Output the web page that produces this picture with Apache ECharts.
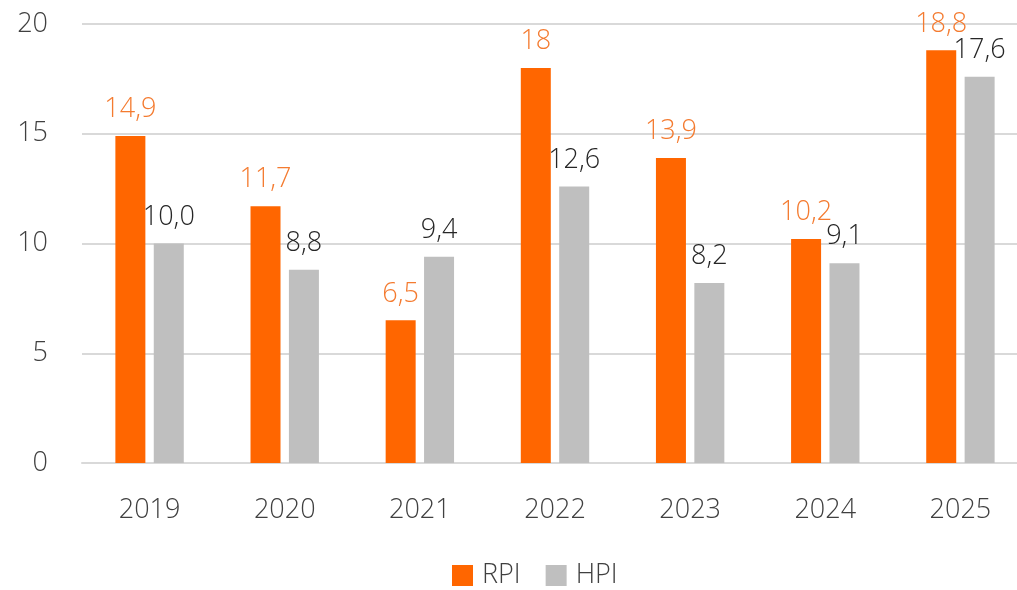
<!DOCTYPE html>
<html>
<head>
<meta charset="utf-8">
<script src="https://cdn.jsdelivr.net/npm/echarts@6/dist/echarts.min.js"></script>
<style>
  html, body { margin: 0; padding: 0; background: #fff; }
  #chart { width: 1017px; height: 590px; }
</style>
</head>
<body>
<div id="chart"></div>
<script>
// данные
const years = ['2019', '2020', '2021', '2022', '2023', '2024', '2025'];
const rpi = [14.9, 11.7, 6.5, 18, 13.9, 10.2, 18.8];
const hpi = [10.0, 8.8, 9.4, 12.6, 8.2, 9.1, 17.6];
const yTicks = [0, 5, 10, 15, 20];

const font = '"Open Sans", sans-serif';
const comma = (v) => String(v).replace('.', ',');

const chart = echarts.init(document.getElementById('chart'));
chart.setOption({
  animation: false,
  textStyle: { fontFamily: font },
  // сетка чуть шире окна, как в исходнике
  grid: { left: 82, width: 946, top: 24, bottom: 127, outerBoundsMode: 'none', containLabel: false },
  legend: {
    left: 447,
    bottom: -4,
    itemWidth: 21,
    itemHeight: 21,
    itemGap: 25,
    icon: 'rect',
    textStyle: { fontSize: 27, fontWeight: 300, color: '#404040', fontFamily: font, padding: [0, 0, 0, 4] },
    data: ['RPI', 'HPI'],
  },
  xAxis: {
    type: 'category',
    data: years,
    axisLine: { lineStyle: { color: '#d9d9d9', width: 2 } },
    axisTick: { show: false },
    axisLabel: { color: '#404040', fontSize: 27, fontWeight: 300, margin: 34, fontFamily: font },
  },
  yAxis: {
    type: 'value',
    min: yTicks[0],
    max: yTicks[yTicks.length - 1],
    interval: yTicks[1] - yTicks[0],
    axisLine: { show: false },
    axisTick: { show: false },
    axisLabel: { color: '#404040', fontSize: 27, fontWeight: 300, margin: 34, fontFamily: font },
    splitLine: { lineStyle: { color: '#d9d9d9', width: 2 } },
  },
  series: [
    {
      name: 'RPI',
      type: 'bar',
      data: rpi,
      barWidth: 30,
      barGap: '28%',
      itemStyle: { color: '#ff6600' },
      label: {
        show: true,
        position: 'top',
        distance: 13,
        fontSize: 27,
        fontWeight: 300,
        color: '#f47b30',
        fontFamily: font,
        formatter: (p) => comma(p.value),
      },
    },
    {
      name: 'HPI',
      type: 'bar',
      data: hpi,
      barWidth: 30,
      itemStyle: { color: '#bfbfbf' },
      label: {
        show: true,
        position: 'top',
        distance: 13,
        fontSize: 27,
        fontWeight: 300,
        color: '#262626',
        fontFamily: font,
        formatter: (p) => comma(p.value.toFixed(1)),
      },
    },
  ],
});
</script>
</body>
</html>
